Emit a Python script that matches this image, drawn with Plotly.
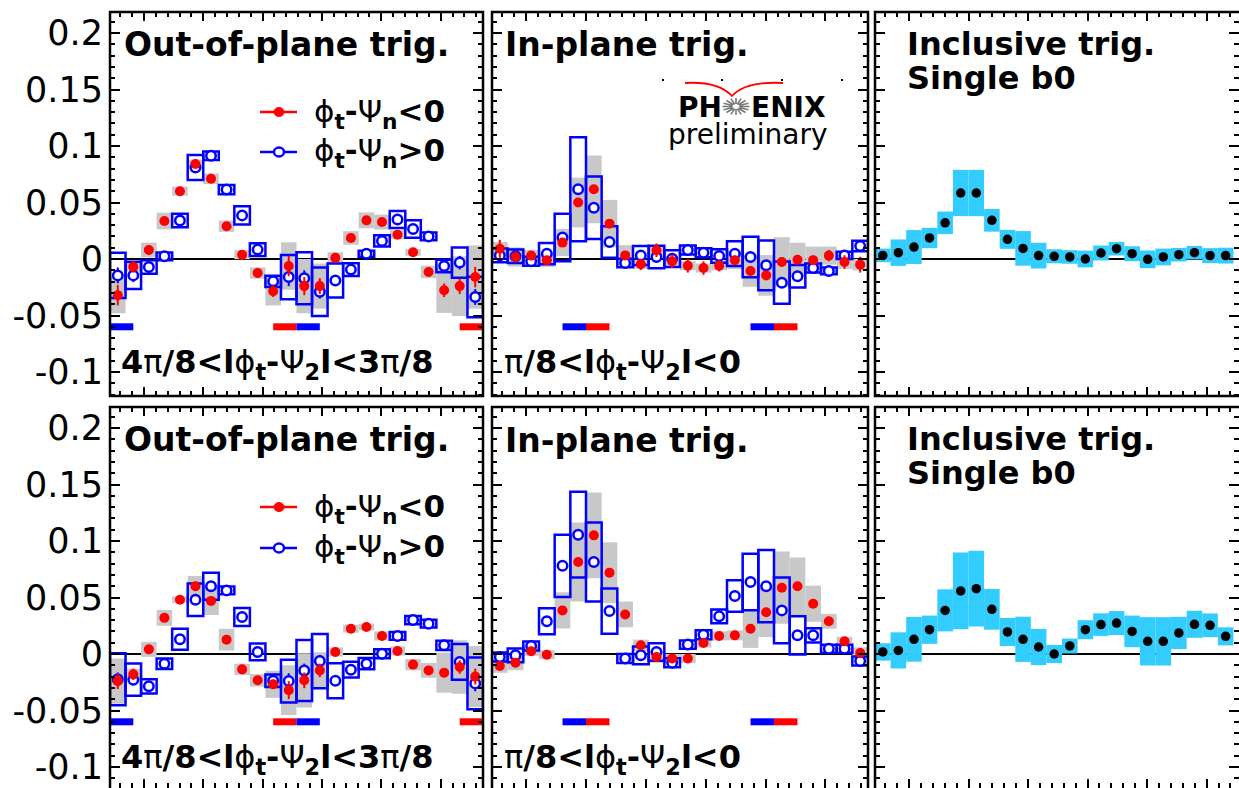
import numpy as np
import plotly.graph_objects as go

W, H = 1239, 788
PI = np.pi
N_BINS = 24
BIN_W = PI / 12
x_bins = -PI / 2 + BIN_W / 2 + BIN_W * np.arange(N_BINS)

# ---------------- data: top row ----------------
out1_red = [-0.032, -0.007, 0.008, 0.0336, 0.060, 0.084, 0.071, 0.029, 0.0038, -0.0124, -0.0286, -0.0062,
            -0.024, -0.024, 0.001, 0.0186, 0.0342, 0.0327, 0.0215, 0.0059, -0.0115, -0.0277, -0.024, -0.016]
out1_red_stat = [0.009, 0.005, 0.004, 0.003, 0.003, 0.003, 0.003, 0.003, 0.003, 0.004, 0.005, 0.009,
                 0.008, 0.007, 0.004, 0.003, 0.003, 0.003, 0.003, 0.003, 0.004, 0.006, 0.007, 0.009]
out1_red_sys = [0.016, 0.004, 0.0065, 0.0074, 0.004, 0.004, 0.0047, 0.005, 0.004, 0.005, 0.0125, 0.021,
                0.024, 0.02, 0.005, 0.006, 0.007, 0.0066, 0.004, 0.003, 0.0055, 0.02, 0.0265, 0.028]
out1_blue = [-0.0145, -0.0145, -0.007, 0.0024, 0.034, 0.081, 0.0914, 0.0614, 0.0386, 0.0083, -0.0198, -0.016,
             -0.017, -0.029, -0.019, -0.0094, 0.0047, 0.016, 0.035, 0.0265, 0.020, -0.0062, -0.0032, -0.0336]
out1_blue_stat = [0.007, 0.006, 0.003, 0.002, 0.003, 0.003, 0.003, 0.003, 0.003, 0.003, 0.004, 0.008,
                  0.007, 0.006, 0.004, 0.003, 0.002, 0.003, 0.003, 0.003, 0.002, 0.003, 0.006, 0.007]
out1_blue_sys = [0.020, 0.012, 0.006, 0.0034, 0.006, 0.011, 0.0037, 0.004, 0.008, 0.0056, 0.005, 0.0196,
                 0.023, 0.0215, 0.015, 0.0056, 0.0027, 0.005, 0.0075, 0.0077, 0.0034, 0.0056, 0.0134, 0.018]

in1_red = [0.009, 0.0018, 0.003, -0.001, 0.0145, 0.050, 0.0617, 0.0313, 0.0032, -0.0047, 0.0077, -0.002,
           -0.006, -0.008, -0.006, -0.001, -0.0106, -0.0145, -0.0027, -0.0006, -0.001, 0.003, -0.0027, -0.005]
in1_red_stat = [0.008, 0.005, 0.004, 0.003, 0.003, 0.003, 0.003, 0.003, 0.003, 0.005, 0.006, 0.006,
                0.006, 0.006, 0.005, 0.004, 0.004, 0.004, 0.004, 0.004, 0.004, 0.005, 0.006, 0.007]
in1_red_sys = [0.006, 0.0085, 0.005, 0.006, 0.012, 0.022, 0.030, 0.021, 0.009, 0.004, 0.004, 0.004,
               0.004, 0.004, 0.004, 0.008, 0.014, 0.018, 0.022, 0.015, 0.012, 0.008, 0.006, 0.005]
in1_blue = [0.0032, 0.0024, -0.002, 0.0047, 0.019, 0.0617, 0.0454, 0.015, -0.0035, 0.0032, 0.0018, 0.0003,
            0.008, 0.0056, 0.0027, 0.0047, 0.0018, -0.0056, -0.021, -0.0153, -0.008, -0.0106, 0.0032, 0.0115]
in1_blue_stat = [0.006, 0.004, 0.003, 0.003, 0.004, 0.004, 0.004, 0.003, 0.002, 0.003, 0.004, 0.004,
                 0.005, 0.004, 0.003, 0.004, 0.004, 0.004, 0.004, 0.003, 0.002, 0.002, 0.004, 0.005]
in1_blue_sys = [0.006, 0.006, 0.004, 0.0094, 0.021, 0.046, 0.0277, 0.014, 0.0037, 0.0084, 0.01, 0.0074,
                0.004, 0.004, 0.006, 0.011, 0.018, 0.022, 0.0187, 0.01, 0.004, 0.003, 0.0033, 0.0047]

incl1 = [0.0032, 0.0056, 0.0106, 0.0186, 0.032, 0.0584, 0.0584, 0.0342, 0.0174, 0.0094, 0.003, 0.0024,
         0.0018, 0.0, 0.0053, 0.0091, 0.0047, -0.0003, 0.0018, 0.0038, 0.0056, 0.003, 0.003]
incl1_sys = [0.006, 0.0117, 0.015, 0.009, 0.010, 0.0205, 0.0205, 0.010, 0.0084, 0.0153, 0.0114, 0.0062,
             0.006, 0.0074, 0.0066, 0.006, 0.0066, 0.0078, 0.0074, 0.006, 0.006, 0.0066, 0.007]

# ---------------- data: bottom row ----------------
out2_red = [-0.024, -0.018, 0.0041, 0.032, 0.048, 0.060, 0.047, 0.0127, -0.0136, -0.0233, -0.0268, -0.032,
            -0.0233, -0.0145, 0.0018, 0.0224, 0.0239, 0.016, 0.0027, -0.0094, -0.0145, -0.0165, -0.0115, -0.020]
out2_red_stat = [0.007, 0.005, 0.003, 0.003, 0.003, 0.003, 0.003, 0.003, 0.003, 0.003, 0.004, 0.008,
                 0.007, 0.006, 0.003, 0.003, 0.003, 0.003, 0.003, 0.003, 0.003, 0.004, 0.006, 0.007]
out2_red_sys = [0.02, 0.005, 0.0066, 0.007, 0.003, 0.009, 0.0125, 0.0096, 0.005, 0.0055, 0.012, 0.022,
                0.024, 0.016, 0.004, 0.0035, 0.003, 0.004, 0.004, 0.005, 0.0066, 0.0177, 0.0236, 0.027]
out2_blue = [-0.0224, -0.0227, -0.0286, -0.0086, 0.013, 0.048, 0.060, 0.0563, 0.0327, 0.0018, -0.0236, -0.024,
             -0.0145, -0.0062, -0.0236, -0.0139, -0.0086, 0.0003, 0.016, 0.030, 0.0268, 0.0077, -0.007, -0.026]
out2_blue_stat = [0.006, 0.005, 0.003, 0.002, 0.003, 0.003, 0.003, 0.002, 0.003, 0.003, 0.004, 0.007,
                  0.006, 0.005, 0.004, 0.003, 0.003, 0.002, 0.002, 0.002, 0.002, 0.002, 0.005, 0.007]
out2_blue_sys = [0.023, 0.0143, 0.0063, 0.0047, 0.0093, 0.0143, 0.012, 0.0034, 0.008, 0.0074, 0.0055, 0.019,
                 0.027, 0.024, 0.0155, 0.007, 0.005, 0.004, 0.0034, 0.0037, 0.0034, 0.0041, 0.0158, 0.023]

in2_red = [-0.0106, -0.0077, 0.0024, -0.0006, 0.0386, 0.0814, 0.105, 0.072, 0.035, 0.0077, -0.0027, -0.004,
           -0.004, 0.0097, 0.016, 0.0165, 0.0224, 0.037, 0.0587, 0.060, 0.0445, 0.029, 0.0112, 0.0009]
in2_red_stat = [0.004, 0.004, 0.003, 0.003, 0.003, 0.003, 0.003, 0.003, 0.003, 0.004, 0.004, 0.004,
                0.004, 0.003, 0.003, 0.003, 0.003, 0.003, 0.003, 0.003, 0.003, 0.003, 0.003, 0.004]
in2_red_sys = [0.006, 0.0066, 0.004, 0.004, 0.016, 0.035, 0.038, 0.027, 0.0114, 0.005, 0.005, 0.004,
               0.004, 0.004, 0.004, 0.0044, 0.017, 0.022, 0.032, 0.0255, 0.016, 0.0066, 0.004, 0.005]
in2_blue = [-0.0027, -0.0012, 0.0071, 0.0289, 0.078, 0.1056, 0.0814, 0.038, -0.004, -0.0012, 0.0018, -0.0077,
            0.0083, 0.0171, 0.0333, 0.0513, 0.0637, 0.060, 0.0386, 0.0165, 0.0165, 0.0047, 0.0047, -0.0062]
in2_blue_stat = [0.003, 0.003, 0.003, 0.003, 0.003, 0.003, 0.003, 0.003, 0.003, 0.003, 0.003, 0.003,
                 0.003, 0.003, 0.003, 0.003, 0.003, 0.003, 0.003, 0.003, 0.003, 0.002, 0.002, 0.003]
in2_blue_sys = [0.004, 0.006, 0.004, 0.0115, 0.0276, 0.038, 0.035, 0.020, 0.004, 0.0078, 0.0078, 0.004,
                0.0037, 0.004, 0.006, 0.014, 0.025, 0.032, 0.029, 0.017, 0.0063, 0.0035, 0.0035, 0.004]

incl2 = [0.0018, 0.0032, 0.013, 0.0215, 0.0386, 0.0558, 0.0578, 0.0395, 0.0195, 0.013, 0.0062, 0.0,
         0.0071, 0.0215, 0.026, 0.0274, 0.020, 0.0112, 0.0112, 0.0186, 0.0263, 0.0254, 0.0156]
incl2_sys = [0.0077, 0.016, 0.0198, 0.0125, 0.0186, 0.034, 0.0335, 0.018, 0.0124, 0.02, 0.016, 0.008,
             0.0066, 0.0084, 0.01, 0.0106, 0.014, 0.0214, 0.0214, 0.0143, 0.012, 0.0105, 0.008]

# colour-coded reference intervals drawn at y = -0.06: (colour, start, end)
MARK_LEVEL = -0.06
marks_out = [("blue", -PI / 2, -3 * PI / 8), ("red", 3 * PI / 8, PI / 2),
             ("blue", PI / 2, 5 * PI / 8), ("red", 11 * PI / 8, 3 * PI / 2)]
marks_in = [("blue", -PI / 8, 0.0), ("red", 0.0, PI / 8),
            ("blue", 7 * PI / 8, PI), ("red", PI, 9 * PI / 8)]

ytick_vals = [-0.1, -0.05, 0, 0.05, 0.1, 0.15, 0.2]
ytick_text = ["-0.1", "-0.05", "0", "0.05", "0.1", "0.15", "0.2"]

RED, BLUE, GRAY, CYAN = "#ff0000", "#0000ff", "#c8c8c8", "#33ccff"
FONT = "DejaVu Sans"


def px(x):
    return x / W


def py(y):
    return 1 - y / H


fig = go.Figure()


def sys_boxes(xa, ya, y, sys, fill, line_color=None):
    y = np.asarray(y)
    sys = np.asarray(sys)
    xs = x_bins[:len(y)]
    fig.add_trace(go.Bar(
        x=xs, y=2 * sys, base=y - sys, width=BIN_W,
        marker=dict(color=fill, line=dict(color=line_color or fill,
                                          width=2.5 if line_color else 0)),
        xaxis=xa, yaxis=ya, showlegend=False, hoverinfo="skip"))


def points(xa, ya, y, stat, color, hollow, size=10):
    xs = x_bins[:len(y)]
    if hollow:
        marker = dict(symbol="circle", size=size, color="white", line=dict(color=color, width=2.5))
    else:
        marker = dict(symbol="circle", size=size, color=color)
    fig.add_trace(go.Scatter(
        x=xs, y=y, mode="markers", marker=marker,
        error_y=dict(type="data", array=stat, color=color, thickness=2, width=0) if stat is not None else None,
        xaxis=xa, yaxis=ya, showlegend=False, hoverinfo="skip"))


def interval_marks(xa, ya, marks):
    for col, a, b in marks:
        fig.add_trace(go.Scatter(
            x=[a, b], y=[MARK_LEVEL, MARK_LEVEL], mode="lines",
            line=dict(color=RED if col == "red" else BLUE, width=7),
            xaxis=xa, yaxis=ya, showlegend=False, hoverinfo="skip"))


def split_panel(xa, ya, red, red_stat, red_sys, blue, blue_stat, blue_sys, marks):
    sys_boxes(xa, ya, red, red_sys, GRAY)
    sys_boxes(xa, ya, blue, blue_sys, "rgba(0,0,0,0)", BLUE)
    interval_marks(xa, ya, marks)
    points(xa, ya, blue, blue_stat, BLUE, True, size=9.5)
    points(xa, ya, red, red_stat, RED, False, size=10)


def incl_panel(xa, ya, y, sys):
    sys_boxes(xa, ya, y, sys, CYAN)
    points(xa, ya, y, None, "black", False, size=9.5)


split_panel("x", "y", out1_red, out1_red_stat, out1_red_sys, out1_blue, out1_blue_stat, out1_blue_sys, marks_out)
split_panel("x2", "y2", in1_red, in1_red_stat, in1_red_sys, in1_blue, in1_blue_stat, in1_blue_sys, marks_in)
incl_panel("x3", "y3", incl1, incl1_sys)
split_panel("x4", "y4", out2_red, out2_red_stat, out2_red_sys, out2_blue, out2_blue_stat, out2_blue_sys, marks_out)
split_panel("x5", "y5", in2_red, in2_red_stat, in2_red_sys, in2_blue, in2_blue_stat, in2_blue_sys, marks_in)
incl_panel("x6", "y6", incl2, incl2_sys)

# ---------------- axes ----------------
col_px = [(110, 483), (492, 868), (875, 1249)]
row_px = [(12, 396), (407, 791)]
SCALE_Y = 1130.0          # pixels per unit on the vertical axes
ZERO_PX = [259, 654]      # pixel row of y = 0 in each row

layout = dict(width=W, height=H, margin=dict(l=0, r=0, t=0, b=0), autosize=False,
              plot_bgcolor="white", paper_bgcolor="white", barmode="overlay",
              showlegend=False, font=dict(family=FONT, color="black"))

k = 0
for r in range(2):
    top, bot = row_px[r]
    vis_bot = min(bot, H)
    y_hi = (ZERO_PX[r] - top) / SCALE_Y
    y_lo = (ZERO_PX[r] - vis_bot) / SCALE_Y
    for c in range(3):
        k += 1
        left, right = col_px[c]
        vis_right = min(right, W)
        full_w = right - left
        x_lo = -PI / 2
        x_hi = x_lo + 2 * PI * (vis_right - left) / full_w
        sfx = "" if k == 1 else str(k)
        layout["xaxis" + sfx] = dict(
            domain=[px(left), px(vis_right)], range=[x_lo, x_hi], anchor="y" + sfx,
            showticklabels=False, showgrid=False, zeroline=False, showline=False,
            ticks="inside", ticklen=9, tickwidth=2, tickcolor="black", tick0=0, dtick=1,
            mirror="ticks",
            minor=dict(ticks="inside", ticklen=5, tickwidth=1.5, tickcolor="black",
                       tickmode="linear", tick0=0, dtick=0.2, showgrid=False))
        layout["yaxis" + sfx] = dict(
            domain=[max(py(vis_bot), 0), py(top)], range=[y_lo, y_hi], anchor="x" + sfx,
            showticklabels=(c == 0), tickmode="array", tickvals=ytick_vals, ticktext=ytick_text,
            tickfont=dict(family=FONT, size=35, color="black"), ticklabelstandoff=6,
            showgrid=False, zeroline=True, zerolinecolor="black", zerolinewidth=2, showline=False,
            ticks="inside", ticklen=10, tickwidth=2, tickcolor="black", mirror="ticks",
            minor=dict(ticks="inside", ticklen=5, tickwidth=1.5, tickcolor="black",
                       tickmode="linear", tick0=0, dtick=0.01, showgrid=False))

fig.update_layout(**layout)

# ---------------- frames ----------------
shapes = []
for r in range(2):
    top, bot = row_px[r]
    for c in range(3):
        left, right = col_px[c]
        shapes.append(dict(type="rect", xref="paper", yref="paper",
                           x0=px(left), x1=px(right), y0=py(bot), y1=py(top),
                           line=dict(color="black", width=2.5), fillcolor="rgba(0,0,0,0)",
                           layer="above"))

# ---------------- legend glyphs ----------------
for (ly_red, ly_blue) in [(112, 152), (507, 548)]:
    for ly, col, hollow in [(ly_red, RED, False), (ly_blue, BLUE, True)]:
        shapes.append(dict(type="line", xref="paper", yref="paper",
                           x0=px(260), x1=px(297), y0=py(ly), y1=py(ly),
                           line=dict(color=col, width=2.5), layer="above"))
        rad = 5
        shapes.append(dict(type="circle", xref="paper", yref="paper",
                           x0=px(279 - rad), x1=px(279 + rad), y0=py(ly + rad - 0.5), y1=py(ly - rad + 0.5),
                           fillcolor="white" if hollow else col,
                           line=dict(color=col, width=2.5 if hollow else 1), layer="above"))

# ---------------- PHENIX logo ----------------
for dx in [663, 722, 782, 842]:
    shapes.append(dict(type="rect", xref="paper", yref="paper",
                       x0=px(dx - 1), x1=px(dx + 1), y0=py(81), y1=py(79),
                       fillcolor="black", line=dict(width=0), layer="above"))


def P(x, y):
    return f"{px(x):.5f},{py(y):.5f}"


shapes.append(dict(type="path", xref="paper", yref="paper",
                   path=f"M{P(685, 83)} Q{P(718, 81)} {P(732, 96)} Q{P(746, 81)} {P(783, 83)}",
                   line=dict(color=RED, width=1.8), layer="above"))
cx, cy = 736, 106.5
ray_path = ""
for i in range(16):
    a = 2 * PI * i / 16
    ray_path += f"M{P(cx + 3.5 * np.cos(a), cy + 2.5 * np.sin(a))} L{P(cx + 13.5 * np.cos(a), cy + 8.5 * np.sin(a))} "
shapes.append(dict(type="path", xref="paper", yref="paper", path=ray_path,
                   line=dict(color="#7a7a7a", width=1.6), layer="above"))
fig.update_layout(shapes=shapes)

# ---------------- text ----------------
G = "<span style='font-weight:normal'>{}</span>"
PHI, PSI, PI_S = "ϕ", "Ψ", "π"


def note(x, y, text, size, bold=True, xanchor="left", color="black"):
    fig.add_annotation(x=px(x), y=py(y), xref="paper", yref="paper", text=text, showarrow=False,
                       xanchor=xanchor, yanchor="middle",
                       font=dict(family=FONT, size=size, color=color, weight="bold" if bold else "normal"))


legend_lt = G.format(PHI) + "<sub>t</sub>-" + G.format(PSI) + "<sub>n</sub>&lt;0"
legend_gt = G.format(PHI) + "<sub>t</sub>-" + G.format(PSI) + "<sub>n</sub>&gt;0"
label_out = "4" + G.format(PI_S) + "/8&lt;l" + G.format(PHI) + "<sub>t</sub>-" + G.format(PSI) + \
            "<sub>2</sub>l&lt;3" + G.format(PI_S) + "/8"
label_in = G.format(PI_S) + "/8&lt;l" + G.format(PHI) + "<sub>t</sub>-" + G.format(PSI) + "<sub>2</sub>l&lt;0"

for dy in [0, 395]:
    note(122, 44 + dy, "Out-of-plane trig.", 33)
    note(503, 45 + dy, "In-plane trig.", 33)
    note(905, 44 + dy, "Inclusive trig.", 32)
    note(905, 78 + dy, "Single b0", 32)
    note(312, 113 + dy, legend_lt, 31)
    note(312, 153 + dy, legend_gt, 31)
    note(119, 364 + dy, label_out, 32)
    note(502, 364 + dy, label_in, 32)

note(724, 107, "PH", 28, xanchor="right")
note(749, 107, "ENIX", 28, xanchor="left")
note(666, 134, "preliminary", 28, bold=False)

fig.write_html("out.html")
